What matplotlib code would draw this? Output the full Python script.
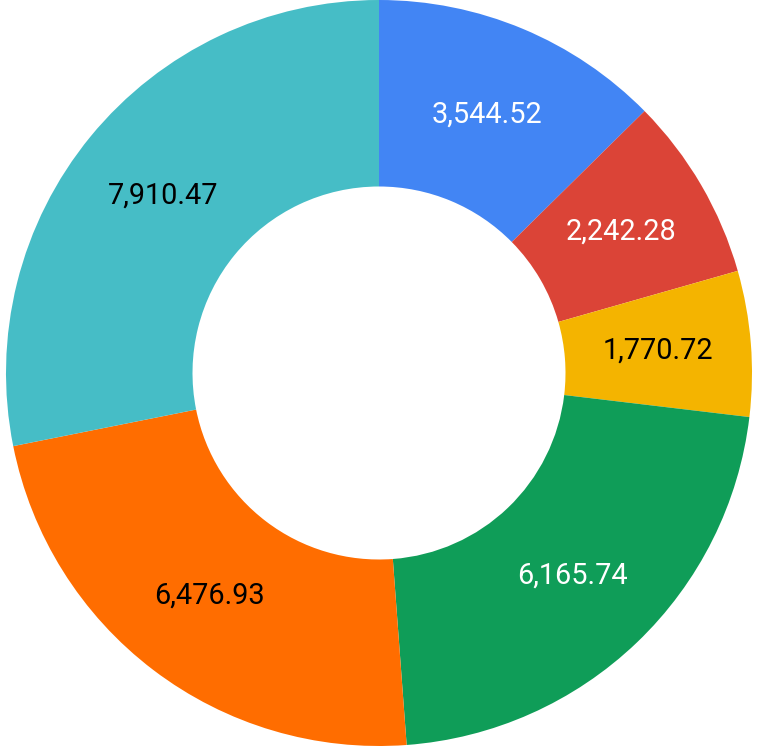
import matplotlib
matplotlib.use("Agg")
import matplotlib.pyplot as plt

labels = ["A", "B", "C", "D", "E", "F"]
values = [3544.52, 2242.28, 1770.72, 6165.74, 6476.93, 7910.47]
colors = ["#4285F4", "#DB4437", "#F4B400", "#0F9D58", "#FF6D00", "#46BDC6"]
text_colors = ["white", "white", "black", "white", "black", "black"]

W, H = 759, 746
cx, cy, R = 379, 373, 373

fig = plt.figure(figsize=(W / 100, H / 100), dpi=100)
ax = fig.add_axes([0, 0, 1, 1])
ax.axis("off")

wedges, texts = ax.pie(
    values, colors=colors, startangle=90, counterclock=False,
    radius=1.0, wedgeprops=dict(width=0.5, edgecolor="none"),
    labels=[f"{v:,.2f}" for v in values], labeldistance=0.75,
    textprops=dict(fontfamily="Roboto", fontsize=20.8),
)
for t, c in zip(texts, text_colors):
    t.set_color(c)
    t.set_horizontalalignment("center")
    t.set_verticalalignment("center")
ax.set_xlim(-cx / R, (W - cx) / R)
ax.set_ylim(-(H - cy) / R, cy / R)
ax.set_aspect("auto")

fig.savefig("out.png", dpi=100)
